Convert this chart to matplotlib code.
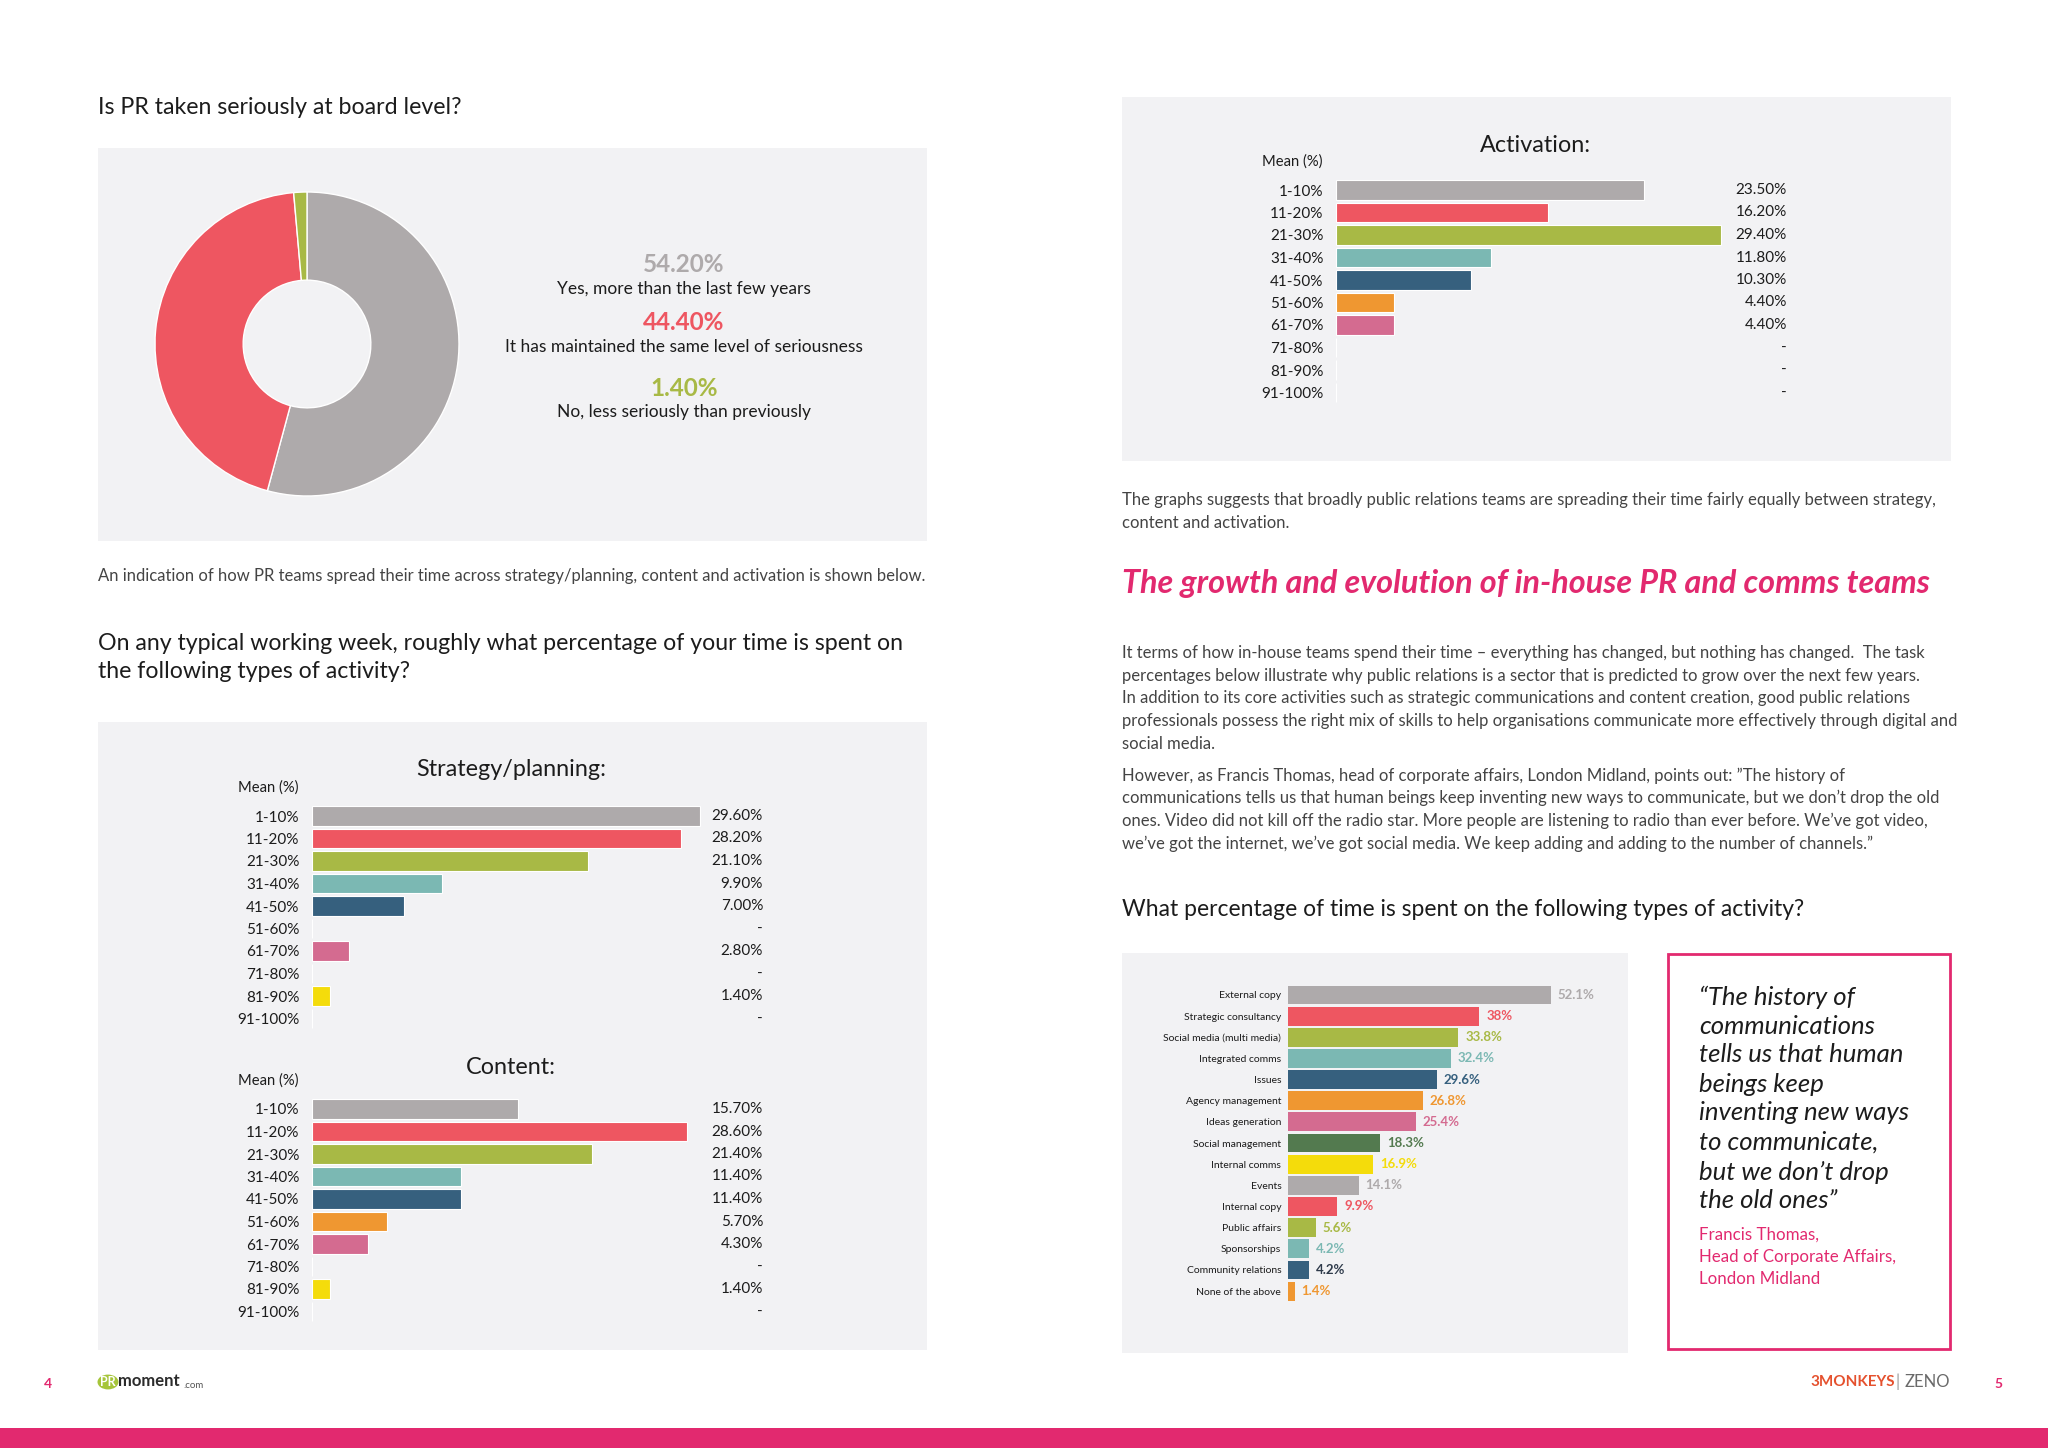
import matplotlib
matplotlib.use('Agg')
import matplotlib.pyplot as plt
from matplotlib.patches import Rectangle, Circle
import matplotlib.transforms as mtransforms

plt.rcParams['font.family'] = ['Lato', 'DejaVu Sans']

W, H = 2048, 1448

# ---------------- data ----------------
board_labels = ['Yes, more than the last few years',
                'It has maintained the same level of seriousness',
                'No, less seriously than previously']
board_values = [54.2, 44.4, 1.4]

bins = ['1-10%', '11-20%', '21-30%', '31-40%', '41-50%',
        '51-60%', '61-70%', '71-80%', '81-90%', '91-100%']
strategy_values = [29.6, 28.2, 21.1, 9.9, 7.0, 0, 2.8, 0, 1.4, 0]
content_values = [15.7, 28.6, 21.4, 11.4, 11.4, 5.7, 4.3, 0, 1.4, 0]
activation_values = [23.5, 16.2, 29.4, 11.8, 10.3, 4.4, 4.4, 0, 0, 0]

activity_names = ['External copy', 'Strategic consultancy', 'Social media (multi media)',
                  'Integrated comms', 'Issues', 'Agency management', 'Ideas generation',
                  'Social management', 'Internal comms', 'Events', 'Internal copy',
                  'Public affairs', 'Sponsorships', 'Community relations', 'None of the above']
activity_values = [52.1, 38, 33.8, 32.4, 29.6, 26.8, 25.4, 18.3, 16.9, 14.1, 9.9, 5.6, 4.2, 4.2, 1.4]

# ---------------- styles ----------------
GREY = '#aeaaab'; RED = '#ee5661'; GREEN = '#a8b945'; TEAL = '#7bb8b3'
NAVY = '#36607e'; ORANGE = '#ef9731'; PINK = '#d46b90'; DGREEN = '#537a4f'
YELLOW = '#f4dc0b'
MAGENTA = '#e2296f'
PANEL = '#f2f2f4'
TXT = '#444444'
DARK = '#1c1c1c'

bin_colors = [GREY, RED, GREEN, TEAL, NAVY, ORANGE, PINK, DGREEN, YELLOW, GREY]
activity_colors = [GREY, RED, GREEN, TEAL, NAVY, ORANGE, PINK, DGREEN, YELLOW, GREY,
                   RED, GREEN, TEAL, NAVY, ORANGE]
activity_label_colors = [GREY, RED, GREEN, TEAL, NAVY, ORANGE, PINK, DGREEN, YELLOW, GREY,
                         RED, GREEN, TEAL, '#2e3a4a', ORANGE]

fig = plt.figure(figsize=(W / 100, H / 100), dpi=100)
fig.patch.set_facecolor('white')


def T(x, y, s, **kw):
    kw.setdefault('va', 'center')
    return fig.text(x / W, 1 - y / H, s, **kw)


def AX(x0, y0, x1, y1):
    return fig.add_axes([x0 / W, 1 - y1 / H, (x1 - x0) / W, (y1 - y0) / H], zorder=5)


def rect(x0, y0, x1, y1, **kw):
    fig.patches.append(Rectangle((x0 / W, 1 - y1 / H), (x1 - x0) / W, (y1 - y0) / H,
                                 transform=fig.transFigure, zorder=-10, **kw))


# ---------------- panels ----------------
rect(98, 148, 927, 541, facecolor=PANEL, edgecolor='none')
rect(98, 722, 927, 1350, facecolor=PANEL, edgecolor='none')
rect(1122, 97, 1951, 461, facecolor=PANEL, edgecolor='none')
rect(1122, 953, 1628, 1353, facecolor=PANEL, edgecolor='none')
rect(1668, 954, 1950, 1349, facecolor='white', edgecolor=MAGENTA, linewidth=2)
rect(0, 1428, W, H, facecolor=MAGENTA, edgecolor='none')

BODY = 12.0
Q = 16.7

# ---------------- left page text ----------------
T(98, 107, 'Is PR taken seriously at board level?', fontsize=Q, color=DARK)
T(98, 576, 'An indication of how PR teams spread their time across strategy/planning, '
           'content and activation is shown below.', fontsize=BODY, color=TXT)
T(98, 643, 'On any typical working week, roughly what percentage of your time is spent on',
  fontsize=Q, color=DARK)
T(98, 672, 'the following types of activity?', fontsize=Q, color=DARK)

# ---------------- donut ----------------
cx, cy, r = 307, 344, 152
ax = AX(cx - r, cy - r, cx + r, cy + r)
ax.pie(board_values, colors=[GREY, RED, GREEN], startangle=90, counterclock=False,
       wedgeprops=dict(width=0.58, edgecolor='white', linewidth=1))
ax.set_xlim(-1, 1); ax.set_ylim(-1, 1); ax.set_aspect('equal'); ax.axis('off')

donut_y = [(265, 289), (323, 347), (389, 412)]
for (yv, yl), v, lab, c in zip(donut_y, board_values, board_labels, [GREY, RED, GREEN]):
    T(684, yv, f'{v:.2f}%', ha='center', fontsize=17.5, weight='bold', color=c)
    T(684, yl, lab, ha='center', fontsize=12.5, color=DARK)


# ---------------- binned bar charts ----------------
def bin_chart(pl, row0, values, title, title_y, mean_y):
    step = 22.5
    bar_left = pl + 214
    val_right = pl + 665
    a = AX(bar_left, row0 - step / 2, val_right, row0 + step * 9.5)
    idx = list(range(len(bins)))
    a.barh(idx, values, height=0.88, color=bin_colors, edgecolor='white', linewidth=0.8)
    a.set_ylim(len(bins) - 0.5, -0.5)
    a.set_xlim(0, (val_right - bar_left) / 13.1)
    a.set_yticks(idx)
    a.set_yticklabels(bins, fontsize=11, color=DARK)
    a.tick_params(axis='y', length=0, pad=9)
    a.set_xticks([])
    for s in a.spines.values():
        s.set_visible(False)
    a.patch.set_visible(False)
    tr = mtransforms.blended_transform_factory(a.transAxes, a.transData)
    for i, v in enumerate(values):
        a.text(1.0, i, f'{v:.2f}%' if v else '-', transform=tr, ha='right', va='center',
               fontsize=11, color=DARK)
    T(pl + 413, title_y, title, ha='center', fontsize=16.8, color=DARK)
    T(pl + 201, mean_y, 'Mean (%)', ha='right', fontsize=10.6, color=DARK)


bin_chart(98, 816, strategy_values, 'Strategy/planning:', 770, 788)
bin_chart(98, 1109, content_values, 'Content:', 1068, 1081)
bin_chart(1122, 190, activation_values, 'Activation:', 146, 162)

# ---------------- right page text ----------------
T(1122, 500, 'The graphs suggests that broadly public relations teams are spreading their time '
             'fairly equally between strategy,', fontsize=BODY, color=TXT)
T(1122, 523, 'content and activation.', fontsize=BODY, color=TXT)

T(1122, 584, 'The growth and evolution of in-house PR and comms teams', fontsize=23.3,
  weight='bold', style='italic', color=MAGENTA)

para = [
    (653, 'It terms of how in-house teams spend their time \u2013 everything has changed, but nothing has changed.  The task'),
    (676, 'percentages below illustrate why public relations is a sector that is predicted to grow over the next few years.'),
    (698, 'In addition to its core activities such as strategic communications and content creation, good public relations'),
    (721, 'professionals possess the right mix of skills to help organisations communicate more effectively through digital and'),
    (744, 'social media.'),
    (776, 'However, as Francis Thomas, head of corporate affairs, London Midland, points out: \u201dThe history of'),
    (798, 'communications tells us that human beings keep inventing new ways to communicate, but we don\u2019t drop the old'),
    (821, 'ones. Video did not kill off the radio star. More people are listening to radio than ever before. We\u2019ve got video,'),
    (844, 'we\u2019ve got the internet, we\u2019ve got social media. We keep adding and adding to the number of channels.\u201d'),
]
for y, s in para:
    T(1122, y, s, fontsize=BODY, color=TXT)

T(1122, 910, 'What percentage of time is spent on the following types of activity?',
  fontsize=16.5, color=DARK)

# ---------------- activity chart ----------------
step = 21.15
top = 995 - step / 2
a = AX(1287.5, top, 1600, top + step * len(activity_names))
idx = list(range(len(activity_names)))
a.barh(idx, activity_values, height=0.89, color=activity_colors, edgecolor='none')
a.set_ylim(len(activity_names) - 0.5, -0.5)
a.set_xlim(0, (1600 - 1287.5) / 5.05)
a.set_yticks(idx)
a.set_yticklabels(activity_names, fontsize=7.5, color=DARK)
a.tick_params(axis='y', length=0, pad=4.5)
a.set_xticks([])
for s in a.spines.values():
    s.set_visible(False)
a.patch.set_visible(False)
for i, (v, c) in enumerate(zip(activity_values, activity_label_colors)):
    a.annotate(f'{v:g}%', (v, i), xytext=(5, 0), textcoords='offset points',
               ha='left', va='center', fontsize=9.5, weight='bold', color=c)

# ---------------- quote box ----------------
quote = ['\u201cThe history of', 'communications', 'tells us that human', 'beings keep',
         'inventing new ways', 'to communicate,', 'but we don\u2019t drop', 'the old ones\u201d']
qy = [997, 1026, 1055, 1084, 1113, 1142, 1172, 1200]
for y, s in zip(qy, quote):
    T(1699, y, s, fontsize=18.5, style='italic', color=DARK)
for y, s in zip([1235, 1257, 1279], ['Francis Thomas,', 'Head of Corporate Affairs,', 'London Midland']):
    T(1699, y, s, fontsize=12.2, color=MAGENTA)

# ---------------- footer ----------------
T(48, 1384, '4', fontsize=10, weight='bold', color=MAGENTA, ha='center')
T(1998, 1384, '5', fontsize=10, weight='bold', color=MAGENTA, ha='center')
fig.patches.append(Circle((108 / W, 1 - 1382 / H), 10.5 / W, transform=fig.transFigure,
                          facecolor='#a6c53a', edgecolor='none'))
T(108, 1382, 'PR', fontsize=9, weight='bold', color='white', ha='center')
T(118, 1381, 'moment', fontsize=12, weight='bold', color='#2b2b2b', ha='left')
T(183, 1385, '.com', fontsize=7, color='#555555', ha='left')
T(1950, 1382, 'ZENO', fontsize=12, color='#6a6a6a', ha='right')
T(1898, 1382, '|', fontsize=12, color='#9a9a9a', ha='center')
T(1895, 1382, '3MONKEYS', fontsize=11, weight='bold', color='#e5512e', ha='right')

fig.savefig('out.png', dpi=100, facecolor='white')
